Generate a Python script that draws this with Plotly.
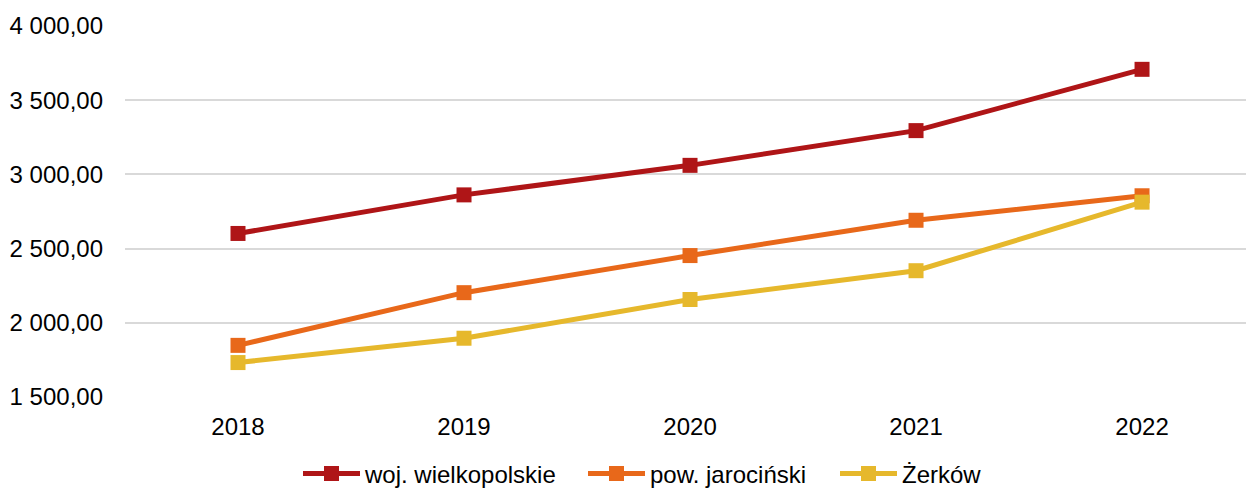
import plotly.graph_objects as go

# lata
years = ["2018", "2019", "2020", "2021", "2022"]

# wartości serii
woj_wielkopolskie = [2602, 2862, 3061, 3295, 3708]
pow_jarocinski = [1848, 2203, 2453, 2691, 2856]
zerkow = [1732, 1896, 2157, 2351, 2813]

series_names = ["woj. wielkopolskie", "pow. jarociński", "Żerków"]
series_colors = ["#AF1517", "#E8681A", "#E6B82C"]

y_ticks = [1500, 2000, 2500, 3000, 3500, 4000]

fig = go.Figure()

# każda seria ma własną legendę, żeby odstępy były jak w oryginale
legend_ids = ["legend", "legend2", "legend3"]
legend_x = [298 / 1246, 583 / 1246, 835 / 1246]

for name, vals, color, lid in zip(series_names, [woj_wielkopolskie, pow_jarocinski, zerkow],
                                  series_colors, legend_ids):
    fig.add_trace(go.Scatter(
        x=years,
        y=vals,
        name=name,
        mode="lines+markers",
        line=dict(color=color, width=5),
        marker=dict(symbol="square", size=15, color=color),
        legend=lid,
    ))

legend_style = dict(
    orientation="h",
    xref="container",
    yref="container",
    xanchor="left",
    y=1 - 474 / 488,
    yanchor="middle",
    font=dict(size=24),
    itemwidth=57,
    bgcolor="rgba(0,0,0,0)",
)

fig.update_layout(
    width=1246,
    height=488,
    showlegend=True,
    separators=", ",
    font=dict(family="Liberation Sans, Arial, sans-serif", size=24, color="#000000"),
    plot_bgcolor="white",
    paper_bgcolor="white",
    margin=dict(l=125, r=0, t=26, b=91),
    xaxis=dict(
        type="category",
        range=[-0.5, 4.46],
        showgrid=False,
        showline=False,
        zeroline=False,
        automargin=False,
        ticklabelstandoff=13,
    ),
    yaxis=dict(
        range=[1500, 4000],
        tickvals=y_ticks,
        tickformat=",.2f",
        showgrid=True,
        gridcolor="#D9D9D9",
        gridwidth=1.5,
        zeroline=False,
        showline=False,
        automargin=False,
        ticklabelstandoff=21,
    ),
    legend=dict(x=legend_x[0], **legend_style),
    legend2=dict(x=legend_x[1], **legend_style),
    legend3=dict(x=legend_x[2], **legend_style),
)

fig.write_html(
    "out.html",
    config={"displayModeBar": False},
    post_script="document.body.style.margin='0';",
)
